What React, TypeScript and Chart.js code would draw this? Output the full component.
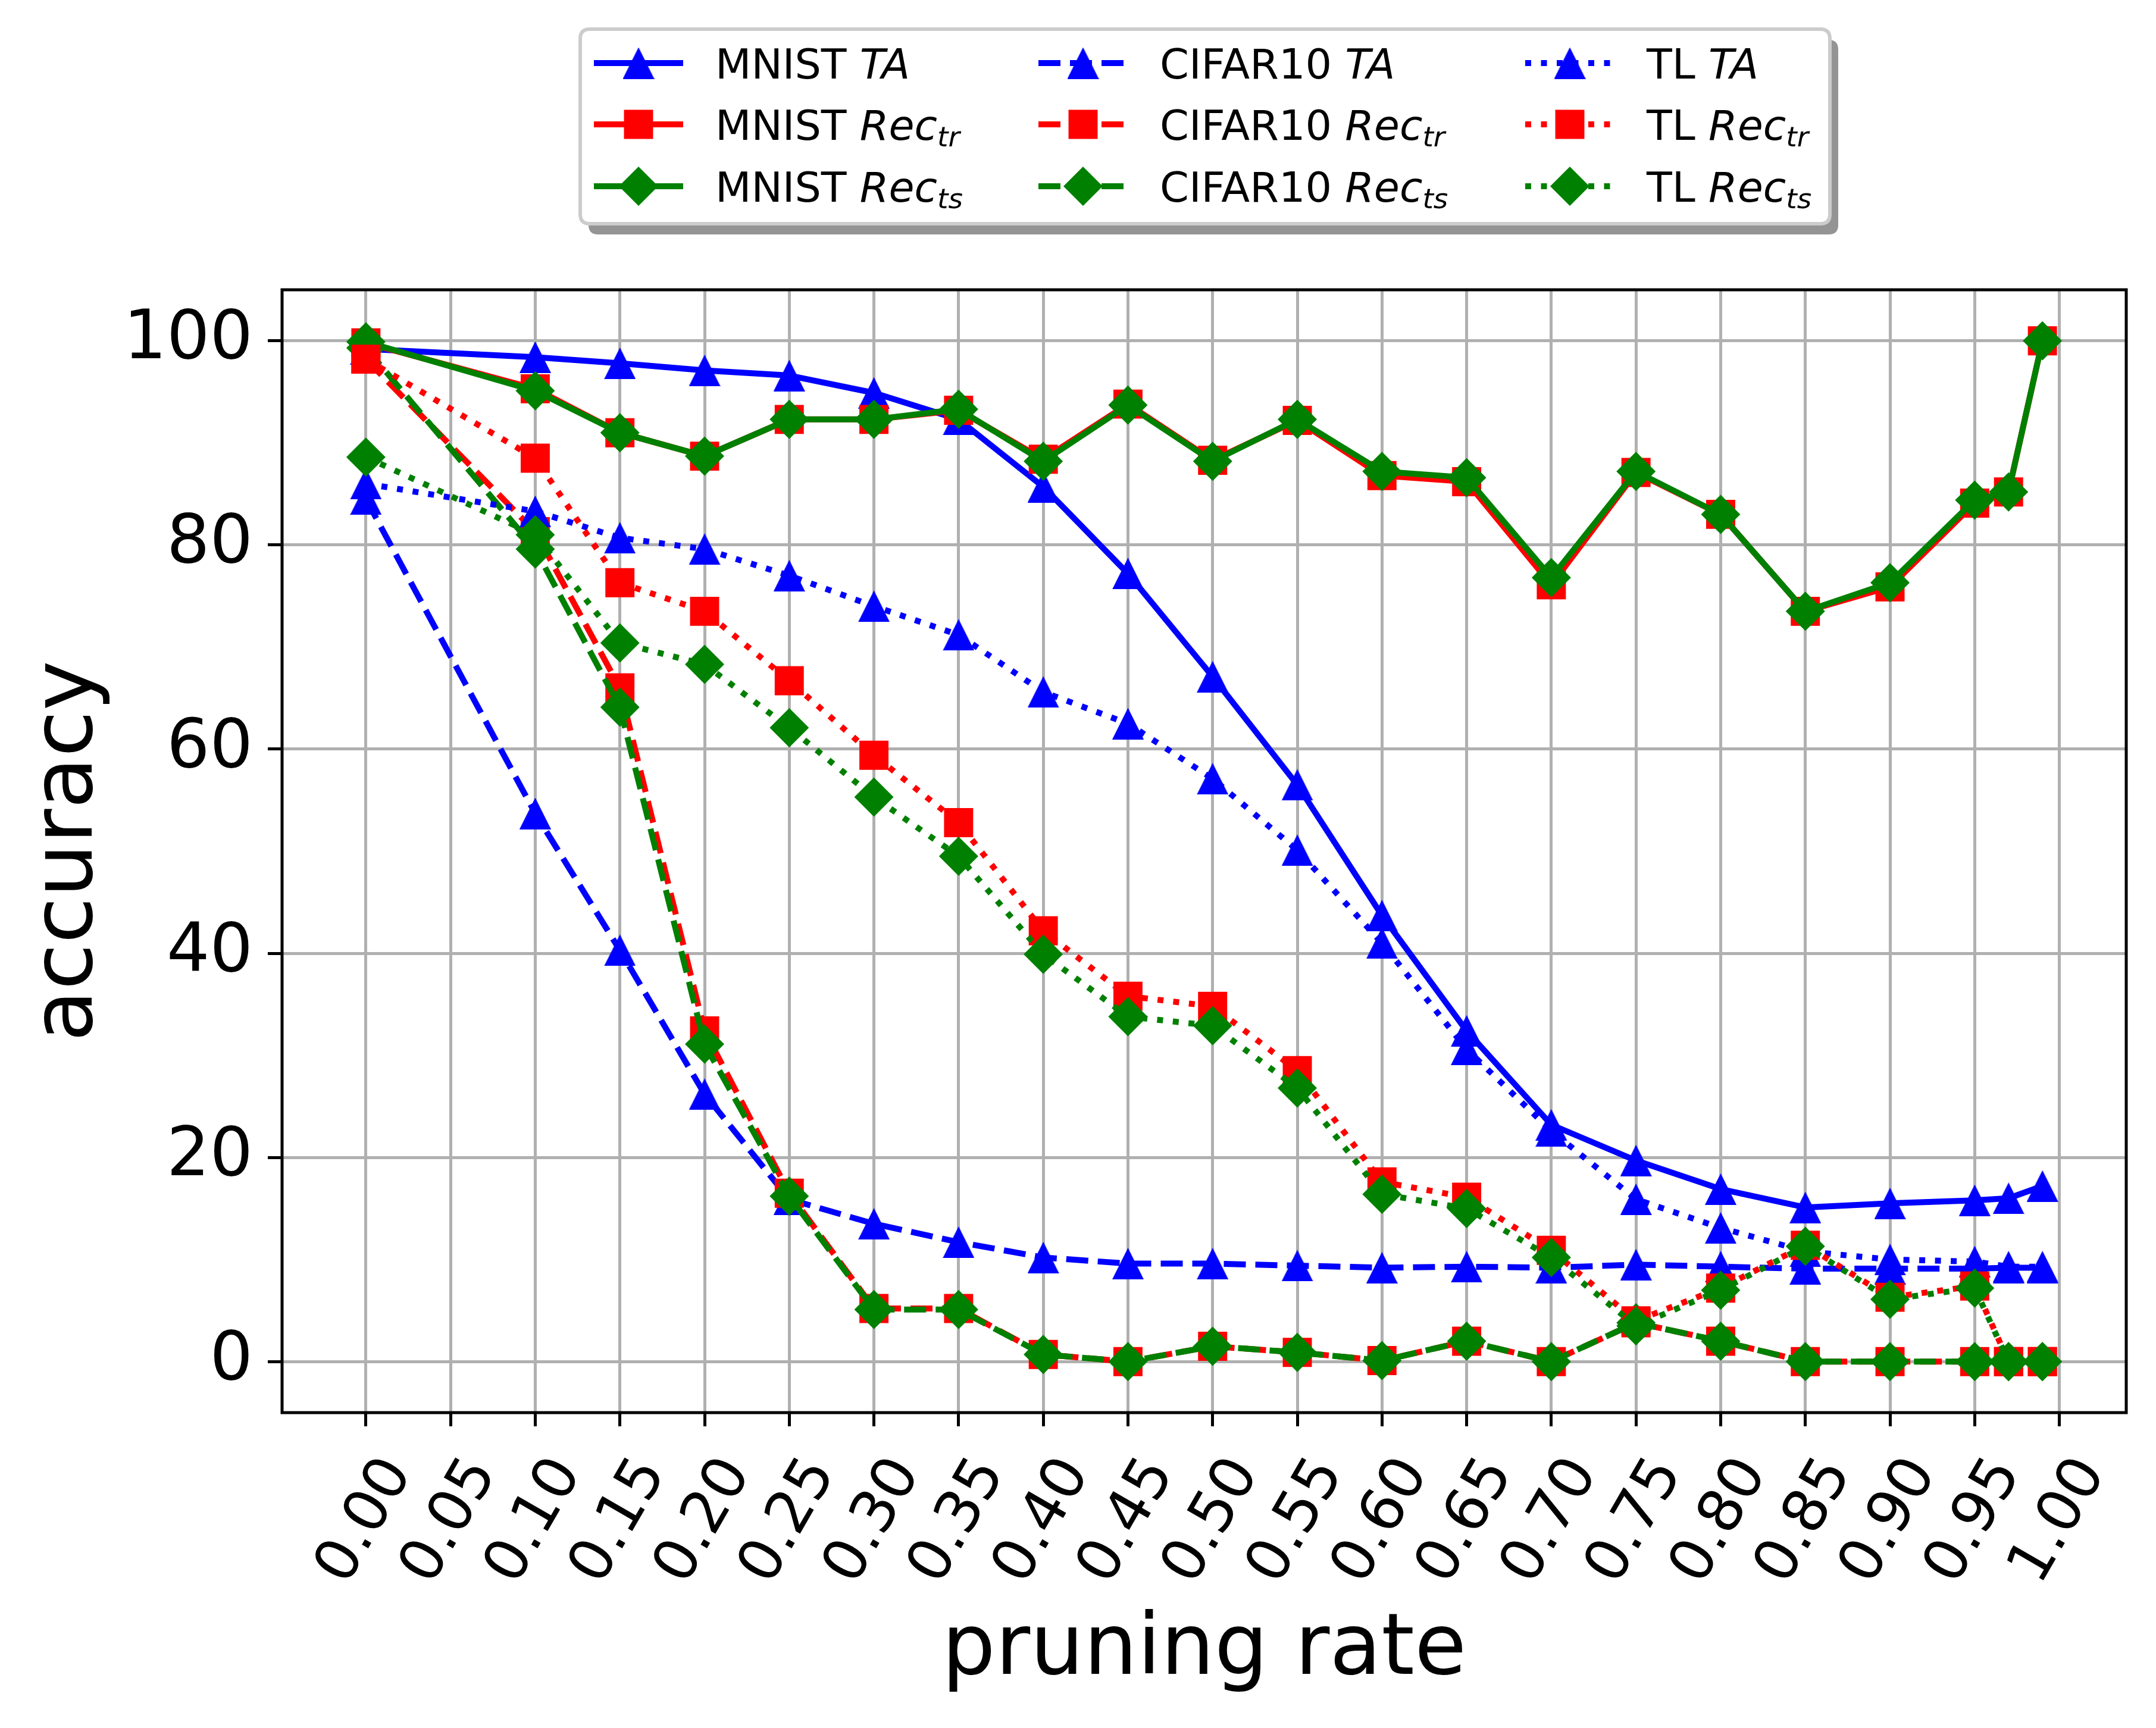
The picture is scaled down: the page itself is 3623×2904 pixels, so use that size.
import React, { useRef, useEffect } from 'react';
import { Chart, registerables } from 'chart.js';
import { drawPoint } from 'chart.js/helpers';

Chart.register(...registerables);

// pruning rates where the models were evaluated
const pruningRate = [0.0, 0.10, 0.15, 0.20, 0.25, 0.30, 0.35, 0.40, 0.45, 0.50, 0.55, 0.60, 0.65, 0.70, 0.75, 0.80, 0.85, 0.90, 0.95, 0.97, 0.99];

const mnistTA = [99.2, 98.4, 97.8, 97.1, 96.6, 94.9, 92.3, 85.7, 77.2, 67.1, 56.5, 43.7, 32.4, 23.2, 19.7, 16.9, 15.1, 15.5, 15.8, 16.0, 17.2];
const mnistRecTr = [99.8, 95.3, 91.0, 88.7, 92.3, 92.3, 93.2, 88.4, 93.8, 88.3, 92.2, 86.8, 86.2, 76.1, 87.1, 83.0, 73.5, 75.9, 84.1, 85.2, 100];
const mnistRecTs = [99.9, 95.1, 91.0, 88.7, 92.3, 92.3, 93.3, 88.2, 93.7, 88.2, 92.3, 87.2, 86.6, 76.8, 87.2, 83.0, 73.5, 76.3, 84.4, 85.2, 100];
const cifarTA = [84.5, 53.7, 40.3, 26.2, 15.9, 13.5, 11.7, 10.2, 9.6, 9.6, 9.4, 9.2, 9.3, 9.2, 9.5, 9.3, 9.1, 9.1, 9.1, 9.2, 9.2];
const cifarRecTr = [98.2, 81.3, 66.0, 32.4, 16.5, 5.2, 5.2, 0.7, 0, 1.5, 0.9, 0.1, 2.0, 0, 3.8, 2.0, 0, 0, 0, 0, 0];
const cifarRecTs = [99.3, 79.6, 64.1, 31.1, 16.2, 5.1, 5.1, 0.7, 0, 1.5, 0.9, 0.1, 2.0, 0, 3.8, 2.0, 0, 0, 0, 0, 0];
const tlTA = [86.0, 83.3, 80.7, 79.6, 77.0, 74.0, 71.2, 65.6, 62.5, 57.1, 50.1, 41.0, 30.6, 22.6, 15.9, 13.1, 10.8, 10.0, 9.8, 9.3, 9.3];
const tlRecTr = [98.2, 88.5, 76.3, 73.5, 66.7, 59.4, 52.8, 42.2, 35.8, 34.8, 28.5, 17.6, 16.1, 10.9, 4.0, 7.2, 11.4, 6.3, 7.4, 0, 0];
const tlRecTs = [88.6, 81.0, 70.4, 68.3, 62.1, 55.3, 49.5, 39.9, 33.8, 32.9, 26.8, 16.4, 15.0, 10.2, 3.5, 7.0, 11.3, 6.1, 7.2, 0, 0];

const xTicks = [0.0, 0.05, 0.10, 0.15, 0.20, 0.25, 0.30, 0.35, 0.40, 0.45, 0.50, 0.55, 0.60, 0.65, 0.70, 0.75, 0.80, 0.85, 0.90, 0.95, 1.0];
const yTicks = [0, 20, 40, 60, 80, 100];

const seriesLabels = [
  'MNIST TA', 'MNIST Rec_tr', 'MNIST Rec_ts',
  'CIFAR10 TA', 'CIFAR10 Rec_tr', 'CIFAR10 Rec_ts',
  'TL TA', 'TL Rec_tr', 'TL Rec_ts',
];
const seriesValues = [mnistTA, mnistRecTr, mnistRecTs, cifarTA, cifarRecTr, cifarRecTs, tlTA, tlRecTr, tlRecTs];

const FONT = "'DejaVu Sans'";
const LW = 10;
const dashes = {
  solid: [] as number[],
  dashed: [37, 16],
  dotted: [10, 16.5],
};
const lineStyles = [dashes.solid, dashes.dashed, dashes.dotted];
const colors = ['#0000ff', '#ff0000', '#008000'];

// matplotlib-like '^' marker (centered box, same width and height)
function makeTriangle(color: string, size: number) {
  const c = document.createElement('canvas');
  c.width = size;
  c.height = size;
  const g = c.getContext('2d')!;
  g.fillStyle = color;
  g.beginPath();
  g.moveTo(size / 2, 0);
  g.lineTo(size, size);
  g.lineTo(0, size);
  g.closePath();
  g.fill();
  return c;
}

// box of the legend and its rows/columns (canvas px)
const LEG = { x: 975, y: 49, w: 2100, h: 327 };
const legRows = [106, 209, 313];
const legHandleX = [998, 1745, 2563];
const HANDLE_LEN = 150;

function roundRect(ctx: CanvasRenderingContext2D, x: number, y: number, w: number, h: number, r: number) {
  ctx.beginPath();
  ctx.moveTo(x + r, y);
  ctx.lineTo(x + w - r, y);
  ctx.quadraticCurveTo(x + w, y, x + w, y + r);
  ctx.lineTo(x + w, y + h - r);
  ctx.quadraticCurveTo(x + w, y + h, x + w - r, y + h);
  ctx.lineTo(x + r, y + h);
  ctx.quadraticCurveTo(x, y + h, x, y + h - r);
  ctx.lineTo(x, y + r);
  ctx.quadraticCurveTo(x, y, x + r, y);
  ctx.closePath();
}

function drawLabel(ctx: CanvasRenderingContext2D, label: string, x: number, baseline: number) {
  const [prefix, term] = label.split(' ');
  const [main, sub] = term.split('_');
  ctx.fillStyle = '#000';
  ctx.textAlign = 'left';
  ctx.textBaseline = 'alphabetic';
  ctx.font = `70px ${FONT}`;
  ctx.fillText(prefix + ' ', x, baseline);
  x += ctx.measureText(prefix + ' ').width;
  ctx.font = `italic 70px ${FONT}`;
  ctx.fillText(main, x, baseline);
  x += ctx.measureText(main).width;
  if (sub) {
    ctx.font = `italic 47px ${FONT}`;
    ctx.fillText(sub, x, baseline + 11);
  }
}

const legendPlugin = {
  id: 'mplLegend',
  afterDraw(chart: any) {
    const ctx: CanvasRenderingContext2D = chart.ctx;
    ctx.save();
    roundRect(ctx, LEG.x + 14, LEG.y + 18, LEG.w, LEG.h, 16);
    ctx.fillStyle = 'rgba(0,0,0,0.42)';
    ctx.fill();
    roundRect(ctx, LEG.x, LEG.y, LEG.w, LEG.h, 16);
    ctx.fillStyle = '#ffffff';
    ctx.fill();
    ctx.lineWidth = 6;
    ctx.strokeStyle = '#cccccc';
    ctx.stroke();

    chart.data.datasets.forEach((ds: any, i: number) => {
      const col = Math.floor(i / 3);
      const row = i % 3;
      const cy = legRows[row];
      const hx = legHandleX[col];
      ctx.save();
      ctx.strokeStyle = ds.borderColor;
      ctx.lineWidth = ds.borderWidth;
      ctx.lineCap = 'butt';
      ctx.setLineDash(ds.borderDash || []);
      ctx.beginPath();
      ctx.moveTo(hx, cy);
      ctx.lineTo(hx + HANDLE_LEN, cy);
      ctx.stroke();
      ctx.setLineDash([]);
      ctx.fillStyle = ds.pointBackgroundColor;
      drawPoint(ctx, { pointStyle: ds.pointStyle, radius: ds.pointRadius, rotation: 0, borderWidth: 0 } as any, hx + HANDLE_LEN / 2, cy);
      ctx.restore();
      drawLabel(ctx, ds.label, hx + HANDLE_LEN + 54, cy + 25.5);
    });
    ctx.restore();
  },
};

// axes frame on top of the lines, plus centred rotated x tick labels
const framePlugin = {
  id: 'mplFrame',
  afterDatasetsDraw(chart: any) {
    const { ctx, chartArea } = chart;
    ctx.save();
    ctx.strokeStyle = '#000';
    ctx.lineWidth = 5;
    ctx.strokeRect(chartArea.left, chartArea.top, chartArea.right - chartArea.left, chartArea.bottom - chartArea.top);
    ctx.restore();
  },
  afterDraw(chart: any) {
    const { ctx } = chart;
    const xScale = chart.scales.x;
    ctx.save();
    ctx.fillStyle = '#000';
    ctx.font = `100px ${FONT}`;
    ctx.textAlign = 'center';
    ctx.textBaseline = 'middle';
    xTicks.forEach((v) => {
      const px = xScale.getPixelForValue(v);
      ctx.save();
      ctx.translate(px, 2557);
      ctx.rotate(-Math.PI / 3);
      ctx.fillText(v.toFixed(2), 0, 0);
      ctx.restore();
    });
    ctx.restore();
  },
};

const App: React.FC = () => {
  const chartRef = useRef<HTMLCanvasElement | null>(null);

  useEffect(() => {
    if (!chartRef.current) return;
    Chart.defaults.font.family = FONT;
    Chart.defaults.color = '#000';

    const markerFor = (k: number) => {
      if (k === 0) return { pointStyle: makeTriangle(colors[0], 53), pointRadius: 27 };
      if (k === 1) return { pointStyle: 'rect', pointRadius: 34.6 };
      return { pointStyle: 'rectRot', pointRadius: 33 };
    };

    const datasets = seriesLabels.map((label, i) => {
      const group = Math.floor(i / 3);
      const kind = i % 3;
      const color = colors[kind];
      const m = markerFor(kind);
      return {
        label,
        data: pruningRate.map((x, j) => ({ x, y: seriesValues[i][j] })),
        borderColor: color,
        backgroundColor: color,
        pointBackgroundColor: color,
        pointBorderColor: color,
        pointBorderWidth: 0,
        pointStyle: m.pointStyle,
        pointRadius: m.pointRadius,
        borderWidth: LW,
        borderDash: lineStyles[group],
        borderCapStyle: group === 0 ? 'square' : 'butt',
        borderJoinStyle: 'round',
        tension: 0,
        fill: false,
        order: 9 - i,
      };
    });

    const chart = new Chart(chartRef.current, {
      type: 'line',
      data: { datasets } as any,
      options: {
        animation: false,
        responsive: false,
        maintainAspectRatio: false,
        devicePixelRatio: 1,
        layout: { padding: { top: 487, right: 50, left: 0, bottom: 0 } },
        plugins: { legend: { display: false }, tooltip: { enabled: false } },
        scales: {
          x: {
            type: 'linear',
            min: -0.0495,
            max: 1.0395,
            afterBuildTicks: (s: any) => { s.ticks = xTicks.map((v) => ({ value: v })); },
            afterFit: (s: any) => { s.height = 530; },
            ticks: { color: 'rgba(0,0,0,0)', font: { size: 2 }, autoSkip: false, maxRotation: 0 },
            grid: { color: '#b0b0b0', lineWidth: 5, tickColor: '#000', tickWidth: 5, tickLength: 23 },
            border: { display: false },
            title: { display: true, text: 'pruning rate', font: { size: 142 }, padding: { top: 0, bottom: 43 } },
          },
          y: {
            type: 'linear',
            min: -5,
            max: 105,
            afterBuildTicks: (s: any) => { s.ticks = yTicks.map((v) => ({ value: v })); },
            afterFit: (s: any) => { s.width = 474; },
            ticks: { font: { size: 114 }, padding: 25, autoSkip: false },
            grid: { color: '#b0b0b0', lineWidth: 5, tickColor: '#000', tickWidth: 5, tickLength: 24 },
            border: { display: false },
            title: { display: true, text: 'accuracy', font: { size: 142 }, padding: { top: 32, bottom: 0 } },
          },
        },
      } as any,
      plugins: [framePlugin, legendPlugin],
    });

    return () => {
      chart.destroy();
    };
  }, []);

  return (
    <canvas
      ref={chartRef}
      width={3623}
      height={2904}
      style={{ position: 'absolute', left: 0, top: 0, width: '3623px', height: '2904px', display: 'block' }}
    />
  );
};

export default App;
